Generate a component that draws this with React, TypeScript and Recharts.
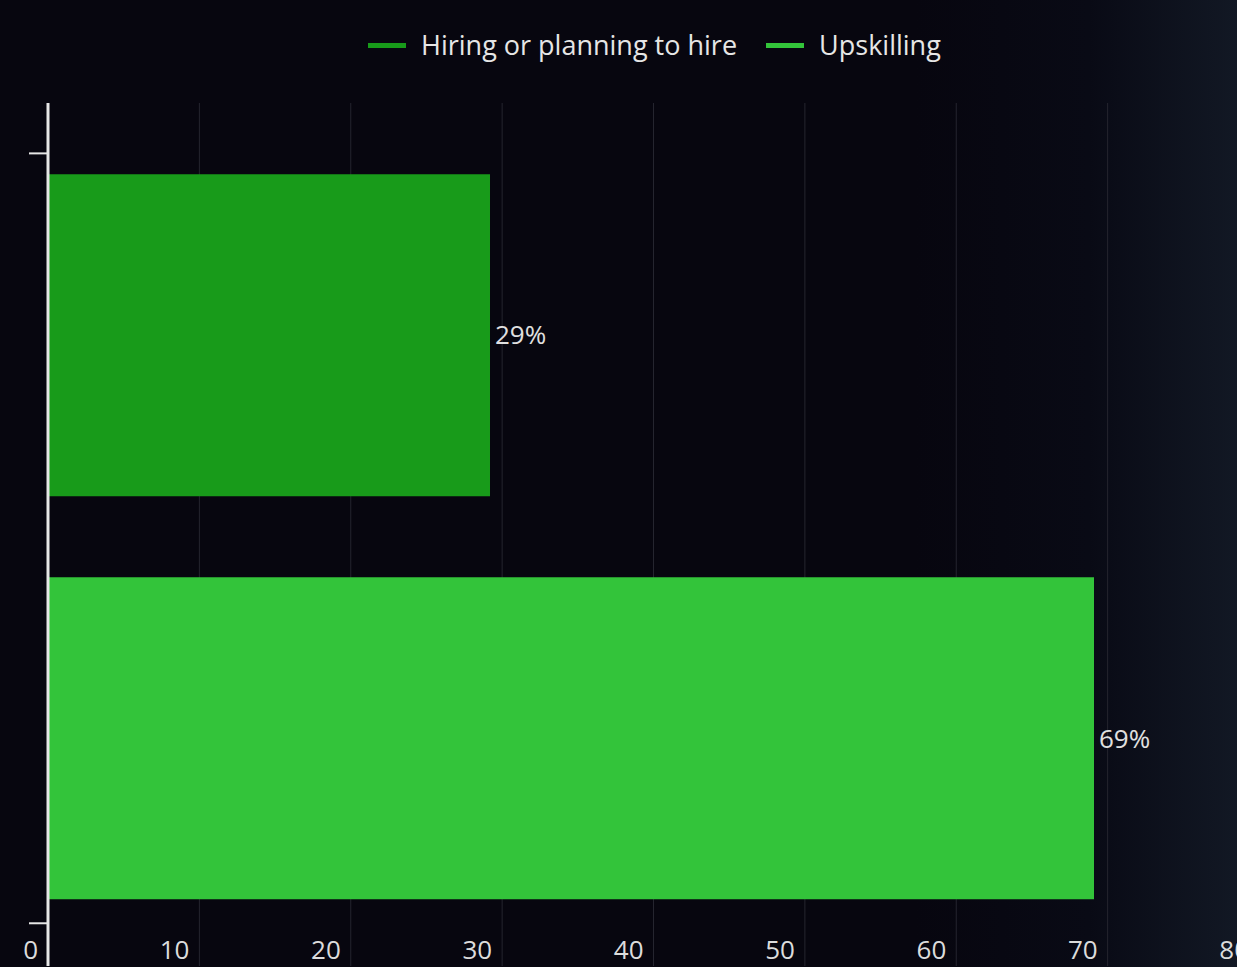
import React from 'react';
import { BarChart, Bar, XAxis, YAxis, CartesianGrid, Legend, LabelList, Cell } from 'recharts';

const categories = ['Hiring or planning to hire', 'Upskilling'];
const positions = [0, 1];
const values = [29.2, 69.1];
const valueLabels = ['29%', '69%'];
const colors = ['#189b1a', '#33c43a'];
const xTicks = [0, 10, 20, 30, 40, 50, 60, 70, 80];
const yTickPositions = [-0.45, 1.46];
const yDomain = [-0.575, 1.566];

const data = categories.map((c, i) => ({ name: c, pos: positions[i], value: values[i], label: valueLabels[i] }));

const FONT = '"Open Sans", sans-serif';

const XTick = (props: any) => {
  const { x, y, payload } = props;
  return (
    <text x={x - 10} y={y - 7} textAnchor="end" fill="#dcdcdc" fontSize={26} fontFamily={FONT}>
      {payload.value}
    </text>
  );
};

const LegendContent = () => (
  <div style={{ display: 'flex', alignItems: 'center', fontFamily: FONT, fontSize: 27, color: '#e6e6e6', whiteSpace: 'nowrap', lineHeight: '36px' }}>
    {categories.map((c, i) => (
      <div key={c} style={{ display: 'flex', alignItems: 'center', marginRight: i === 0 ? 29 : 0 }}>
        <span style={{ display: 'inline-block', width: 38, height: 5, background: colors[i], marginRight: 15 }} />
        <span>{c}</span>
      </div>
    ))}
  </div>
);

export default function App() {
  return (
    <div
      style={{
        position: 'absolute',
        left: 0,
        top: 0,
        width: 1237,
        height: 967,
        overflow: 'hidden',
        background: 'linear-gradient(to right, #07060f 0%, #07060f 74%, #090a15 88%, #121824 100%)',
      }}
    >
      <BarChart
        width={1259}
        height={967}
        data={data}
        layout="vertical"
        margin={{ top: 103, right: 0, bottom: 0, left: 0 }}
        style={{ fontFamily: FONT }}
      >
        <CartesianGrid horizontal={false} stroke="#25252f" strokeWidth={1} />
        <XAxis
          type="number"
          domain={[0, 80]}
          ticks={xTicks}
          interval={0}
          axisLine={false}
          tickLine={false}
          tickSize={0}
          tickMargin={0}
          height={1}
          tick={<XTick />}
          allowDataOverflow
        />
        <YAxis
          type="number"
          dataKey="pos"
          domain={yDomain}
          ticks={yTickPositions}
          interval={0}
          allowDataOverflow
          width={48}
          tickSize={19}
          tickFormatter={() => ''}
          tickLine={{ stroke: '#e6e6e6', strokeWidth: 2 }}
          axisLine={{ stroke: '#e6e6e6', strokeWidth: 3 }}
        />
        <Legend
          verticalAlign="middle"
          align="center"
          layout="horizontal"
          content={<LegendContent />}
          wrapperStyle={{ top: 27, left: 368, width: 760 }}
        />
        <Bar dataKey="value" barSize={322} isAnimationActive={false}>
          {data.map((d, i) => (
            <Cell key={d.name} fill={colors[i]} />
          ))}
          <LabelList dataKey="label" position="right" offset={5} fill="#e0e0e0" fontSize={26} fontFamily={FONT} />
        </Bar>
      </BarChart>
    </div>
  );
}
